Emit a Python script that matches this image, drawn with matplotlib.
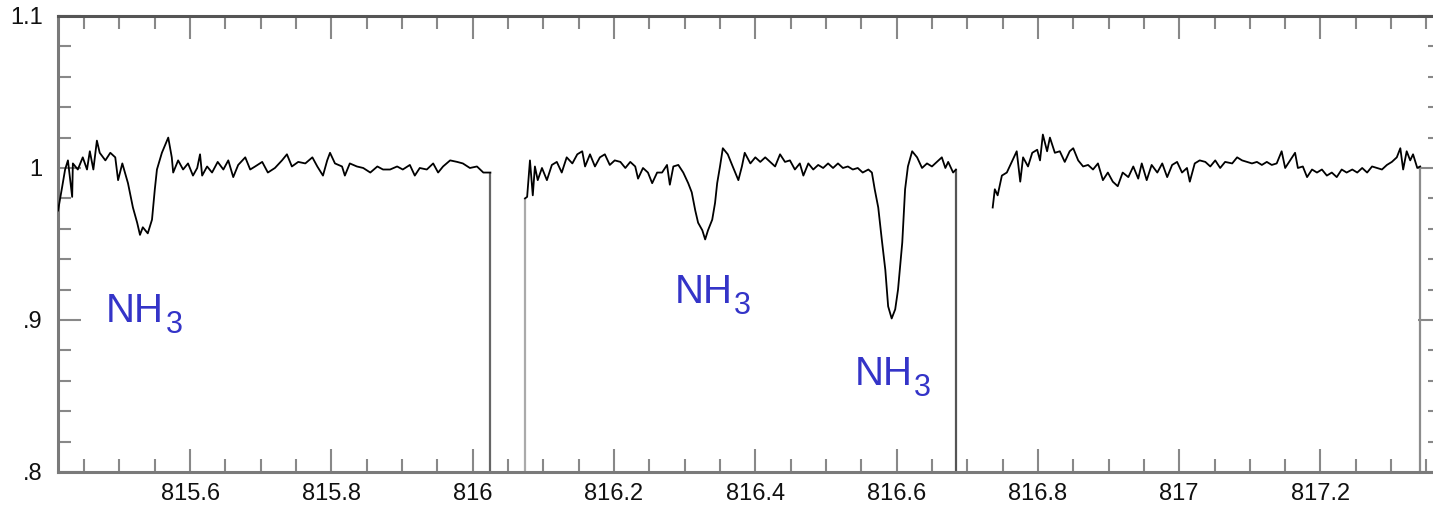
import matplotlib
matplotlib.use("Agg")
import matplotlib.pyplot as plt
from matplotlib.ticker import MultipleLocator, FuncFormatter

# DATOS DEL ESPECTRO (longitud de onda en nm, flujo normalizado)
wave1 = [815.413, 815.419, 815.423, 815.427, 815.433, 815.434, 815.441, 815.448, 815.454, 815.458,
         815.463, 815.468, 815.472, 815.480, 815.487, 815.494, 815.498, 815.504, 815.512, 815.519,
         815.525, 815.529, 815.533, 815.540, 815.546, 815.550, 815.553, 815.560, 815.569, 815.574,
         815.576, 815.583, 815.590, 815.597, 815.604, 815.610, 815.614, 815.617, 815.624, 815.631,
         815.639, 815.647, 815.654, 815.661, 815.668, 815.678, 815.685, 815.692, 815.702, 815.710,
         815.720, 815.730, 815.737, 815.744, 815.753, 815.763, 815.773, 815.780, 815.788, 815.794,
         815.798, 815.805, 815.815, 815.819, 815.826, 815.836, 815.845, 815.855, 815.865, 815.873,
         815.883, 815.893, 815.901, 815.911, 815.918, 815.925, 815.935, 815.944, 815.951, 815.958,
         815.968, 815.978, 815.986, 815.996, 816.006, 816.015, 816.025]
flux1 = [0.972, 0.988, 0.999, 1.005, 0.981, 1.003, 0.999, 1.007, 0.999, 1.011,
         0.999, 1.018, 1.010, 1.005, 1.010, 1.007, 0.992, 1.003, 0.990, 0.974,
         0.964, 0.956, 0.961, 0.957, 0.966, 0.986, 0.999, 1.010, 1.020, 1.007,
         0.997, 1.005, 0.999, 1.003, 0.995, 1.000, 1.009, 0.995, 1.001, 0.997,
         1.004, 0.999, 1.005, 0.994, 1.002, 1.007, 0.999, 1.001, 1.004, 0.997,
         1.000, 1.005, 1.009, 1.001, 1.004, 1.003, 1.007, 1.001, 0.995, 1.005,
         1.010, 1.003, 1.001, 0.995, 1.003, 1.001, 1.000, 0.997, 1.001, 0.999,
         0.999, 1.001, 0.999, 1.002, 0.995, 1.000, 0.999, 1.003, 0.997, 1.001,
         1.005, 1.004, 1.003, 1.000, 1.001, 0.997, 0.997]

wave2 = [816.074, 816.077, 816.081, 816.085, 816.088, 816.092, 816.098, 816.105, 816.112, 816.119,
         816.126, 816.133, 816.141, 816.148, 816.155, 816.159, 816.166, 816.173, 816.180, 816.187,
         816.194, 816.201, 816.209, 816.216, 816.223, 816.230, 816.234, 816.241, 816.248, 816.254,
         816.261, 816.268, 816.275, 816.279, 816.284, 816.291, 816.298, 816.305, 816.310, 816.315,
         816.319, 816.325, 816.329, 816.333, 816.339, 816.343, 816.346, 816.350, 816.354, 816.361,
         816.368, 816.376, 816.381, 816.385, 816.393, 816.400, 816.407, 816.414, 816.421, 816.428,
         816.435, 816.442, 816.449, 816.456, 816.463, 816.468, 816.475, 816.482, 816.489, 816.496,
         816.503, 816.510, 816.517, 816.524, 816.531, 816.538, 816.545, 816.552, 816.560, 816.565,
         816.569, 816.574, 816.579, 816.584, 816.588, 816.593, 816.598, 816.602, 816.608, 816.612,
         816.616, 816.622, 816.629, 816.636, 816.643, 816.650, 816.657, 816.664, 816.669, 816.673,
         816.680, 816.684]
flux2 = [0.980, 0.981, 1.005, 0.982, 1.001, 0.992, 1.000, 0.992, 1.002, 1.004,
         0.997, 1.007, 1.003, 1.009, 1.011, 1.001, 1.009, 1.001, 1.007, 1.009,
         1.002, 1.005, 1.004, 1.000, 1.004, 1.001, 0.993, 1.000, 0.997, 0.990,
         0.997, 0.997, 1.002, 0.989, 1.001, 1.002, 0.997, 0.990, 0.984, 0.972,
         0.964, 0.959, 0.953, 0.959, 0.966, 0.977, 0.990, 1.001, 1.013, 1.009,
         1.001, 0.992, 1.001, 1.010, 1.003, 1.007, 1.004, 1.007, 1.004, 1.001,
         1.009, 1.004, 1.005, 0.999, 1.003, 0.995, 1.003, 0.999, 1.002, 1.000,
         1.003, 1.000, 1.003, 1.000, 1.001, 0.999, 1.000, 0.997, 0.999, 0.997,
         0.986, 0.974, 0.953, 0.933, 0.909, 0.901, 0.907, 0.920, 0.951, 0.986,
         1.001, 1.011, 1.007, 1.000, 1.003, 1.001, 1.004, 1.007, 1.000, 1.004,
         0.997, 0.999]

wave3 = [816.736, 816.739, 816.743, 816.749, 816.756, 816.763, 816.770, 816.775, 816.779, 816.786,
         816.792, 816.799, 816.803, 816.807, 816.813, 816.817, 816.824, 816.831, 816.838, 816.845,
         816.850, 816.857, 816.864, 816.871, 816.878, 816.885, 816.892, 816.899, 816.906, 816.913,
         816.920, 816.928, 816.935, 816.942, 816.947, 816.954, 816.961, 816.969, 816.976, 816.983,
         816.990, 816.997, 817.004, 817.011, 817.015, 817.022, 817.029, 817.037, 817.044, 817.051,
         817.058, 817.065, 817.075, 817.082, 817.089, 817.096, 817.103, 817.110, 817.117, 817.124,
         817.131, 817.138, 817.145, 817.150, 817.157, 817.164, 817.168, 817.175, 817.181, 817.188,
         817.195, 817.202, 817.209, 817.216, 817.223, 817.230, 817.237, 817.245, 817.252, 817.259,
         817.266, 817.273, 817.280, 817.287, 817.294, 817.301, 817.308, 817.313, 817.317, 817.322,
         817.327, 817.331, 817.337, 817.341]
flux3 = [0.974, 0.986, 0.982, 0.995, 0.997, 1.004, 1.011, 0.991, 1.007, 1.001,
         1.010, 1.012, 1.005, 1.022, 1.011, 1.020, 1.010, 1.011, 1.004, 1.011,
         1.013, 1.005, 1.001, 1.002, 0.999, 1.003, 0.992, 0.997, 0.991, 0.988,
         0.997, 0.994, 1.001, 0.993, 1.003, 0.992, 1.002, 0.997, 1.003, 0.994,
         1.002, 1.004, 0.997, 1.000, 0.991, 1.003, 1.005, 1.004, 1.001, 1.005,
         1.000, 1.004, 1.003, 1.007, 1.005, 1.004, 1.003, 1.004, 1.002, 1.004,
         1.002, 1.003, 1.011, 1.000, 1.005, 1.010, 1.000, 1.001, 0.994, 0.999,
         0.997, 0.999, 0.995, 0.997, 0.994, 0.999, 0.997, 0.999, 0.997, 1.000,
         0.997, 1.001, 1.000, 0.999, 1.002, 1.004, 1.007, 1.013, 0.999, 1.011,
         1.005, 1.009, 1.000, 1.001]

# lineas verticales que bajan hasta el eje: (indice de segmento, extremo, color)
caidas = [(0, -1, '#666666'), (1, 0, '#aaaaaa'), (1, -1, '#555555'), (2, -1, '#8c8c8c')]

etiqueta = 'NH'
subindice = '3'
# posicion de cada etiqueta (x, y de la linea base)
etiquetas_pos = [(815.481, 0.8987), (816.286, 0.9112), (816.541, 0.857)]

X_MIN, X_MAX = 815.413, 817.37
Y_MIN, Y_MAX = 0.8, 1.1


def fmt_y(v, pos):
    s = '%g' % round(v, 3)
    if s.startswith('0.'):
        s = s[1:]
    return s


def graficar():
    plt.rcParams['font.family'] = ['Liberation Sans', 'DejaVu Sans']

    fig = plt.figure(figsize=(14.33, 5.09), dpi=100)
    ax = fig.add_axes([0.0405, 0.0727, 0.9648, 0.8959])

    segmentos = [(wave1, flux1), (wave2, flux2), (wave3, flux3)]
    for w, f in segmentos:
        ax.plot(w, f, color='black', lw=1.3, zorder=3)

    for i, extremo, col in caidas:
        w, f = segmentos[i]
        ax.vlines(w[extremo], Y_MIN, f[extremo], colors=col, lw=1.6, zorder=2)

    for x, y in etiquetas_pos:
        t = ax.text(x, y, etiqueta, color='#3434c8', fontsize=29, ha='left', va='baseline')
        ax.annotate(subindice, xy=(1, 0), xycoords=t, xytext=(1, -2),
                    textcoords='offset points', color='#3434c8', fontsize=22,
                    ha='left', va='baseline')

    ax.set_xlim(X_MIN, X_MAX)
    ax.set_ylim(Y_MIN, Y_MAX)

    ax.xaxis.set_major_locator(MultipleLocator(0.2))
    ax.xaxis.set_minor_locator(MultipleLocator(0.05))
    ax.yaxis.set_major_locator(MultipleLocator(0.1))
    ax.yaxis.set_minor_locator(MultipleLocator(0.02))
    ax.xaxis.set_major_formatter(FuncFormatter(lambda v, p: '%g' % round(v, 3)))
    ax.yaxis.set_major_formatter(FuncFormatter(fmt_y))

    ax.tick_params(which='both', direction='in', top=True, right=True,
                   color='#888888', width=1.5, labelsize=17, labelcolor='#111111')
    ax.tick_params(which='major', length=16.5)
    ax.tick_params(which='minor', length=9.5)
    ax.tick_params(axis='x', which='major', pad=8)
    ax.tick_params(axis='y', which='major', pad=11)

    for s in ax.spines.values():
        s.set_color('#7a7a7a')
        s.set_linewidth(2.2)
    ax.spines['top'].set_color('#555555')

    fig.savefig('out.png', dpi=100, facecolor='white')


if __name__ == "__main__":
    graficar()
